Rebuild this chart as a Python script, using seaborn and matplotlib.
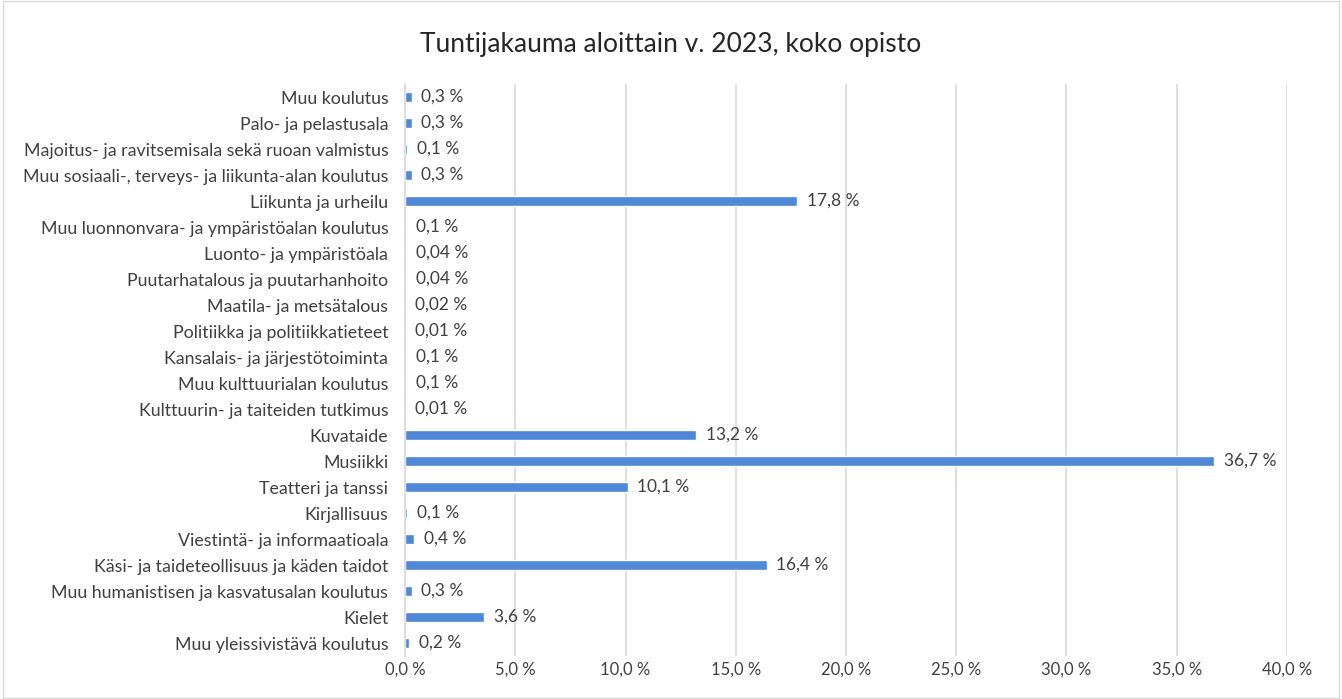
import pandas as pd
import matplotlib.pyplot as plt
import seaborn as sns
from matplotlib.ticker import FuncFormatter
from matplotlib.patches import Rectangle

categories = [
    "Muu koulutus",
    "Palo- ja pelastusala",
    "Majoitus- ja ravitsemisala sekä ruoan valmistus",
    "Muu sosiaali-, terveys- ja liikunta-alan koulutus",
    "Liikunta ja urheilu",
    "Muu luonnonvara- ja ympäristöalan koulutus",
    "Luonto- ja ympäristöala",
    "Puutarhatalous ja puutarhanhoito",
    "Maatila- ja metsätalous",
    "Politiikka ja politiikkatieteet",
    "Kansalais- ja järjestötoiminta",
    "Muu kulttuurialan koulutus",
    "Kulttuurin- ja taiteiden tutkimus",
    "Kuvataide",
    "Musiikki",
    "Teatteri ja tanssi",
    "Kirjallisuus",
    "Viestintä- ja informaatioala",
    "Käsi- ja taideteollisuus ja käden taidot",
    "Muu humanistisen ja kasvatusalan koulutus",
    "Kielet",
    "Muu yleissivistävä koulutus",
]
values = [0.3, 0.3, 0.1, 0.3, 17.8, 0.06, 0.04, 0.04, 0.02, 0.01, 0.06, 0.06,
          0.01, 13.2, 36.7, 10.1, 0.1, 0.4, 16.4, 0.3, 3.6, 0.2]
value_labels = ["0,3 %", "0,3 %", "0,1 %", "0,3 %", "17,8 %", "0,1 %", "0,04 %",
                "0,04 %", "0,02 %", "0,01 %", "0,1 %", "0,1 %", "0,01 %", "13,2 %",
                "36,7 %", "10,1 %", "0,1 %", "0,4 %", "16,4 %", "0,3 %", "3,6 %", "0,2 %"]
x_ticks = [0, 5, 10, 15, 20, 25, 30, 35, 40]

df = pd.DataFrame({"ala": categories, "osuus": values})

sns.set_style("white")
plt.rcParams['font.family'] = ['Lato', 'DejaVu Sans']
text_col = "#404040"

fig = plt.figure(figsize=(13.42, 6.99), dpi=100)
ax = fig.add_axes([0.3018, 0.0615, 0.6572, 0.8183])

sns.barplot(data=df, y="ala", x="osuus", orient="h", color="#4f88d6",
            saturation=1, width=0.4, ax=ax)

ax.set_xlim(0, 40)
ax.set_xticks(x_ticks)
ax.xaxis.set_major_formatter(FuncFormatter(lambda v, p: f"{v:.1f} %".replace(".", ",")))
ax.grid(axis="x", color="#d9d9d9", linewidth=1.2)
ax.set_axisbelow(True)
for s in ["top", "right", "bottom"]:
    ax.spines[s].set_visible(False)
ax.spines["left"].set_color("#d9d9d9")
ax.spines["left"].set_linewidth(1.2)
ax.tick_params(axis="y", length=0, pad=12, labelsize=12.8, labelcolor=text_col)
ax.tick_params(axis="x", length=0, pad=4, labelsize=12, labelcolor=text_col)
ax.set_xlabel("")
ax.set_ylabel("")

for i, (v, lab) in enumerate(zip(values, value_labels)):
    ax.annotate(lab, (v, i), xytext=(7, 0), textcoords="offset points",
                va="center", ha="left", fontsize=12.5, color=text_col)

fig.text(0.5, 0.937, "Tuntijakauma aloittain v. 2023, koko opisto",
         ha="center", va="center", fontsize=19, color="#262626")

fig.add_artist(Rectangle((0.002, 0.002), 0.996, 0.996, transform=fig.transFigure,
                         fill=False, edgecolor="#d9d9d9", linewidth=1))

fig.savefig("out.png", dpi=100)
